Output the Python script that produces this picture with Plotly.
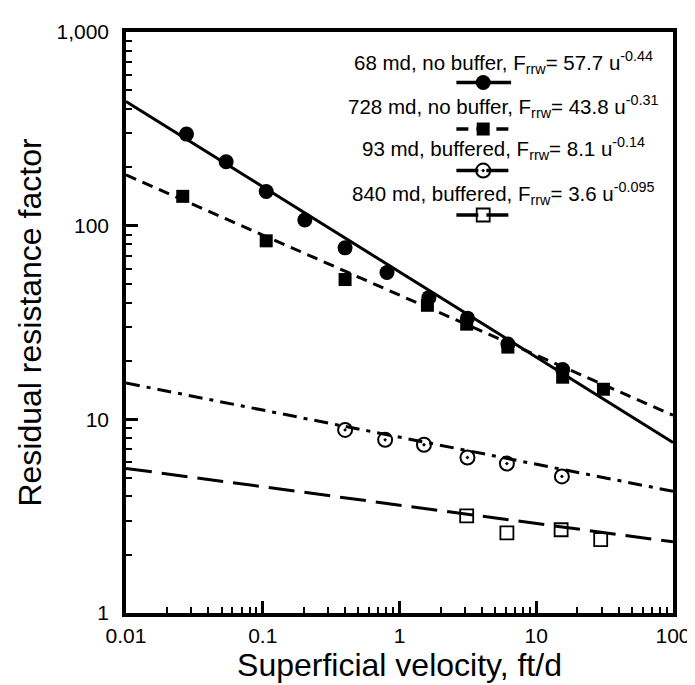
import plotly.graph_objects as go

# ---- data ----
vel_68 = [0.0277, 0.054, 0.106, 0.203, 0.40, 0.81, 1.64, 3.14, 6.2, 15.6]
rrf_68 = [297, 214, 150, 107, 76.8, 57.3, 42.5, 33.3, 24.5, 18.1]

vel_728 = [0.026, 0.106, 0.40, 1.6, 3.1, 6.2, 15.6, 31]
rrf_728 = [141.7, 83.5, 52.7, 38.8, 31.0, 23.6, 16.5, 14.3]

vel_93 = [0.40, 0.785, 1.51, 3.14, 6.1, 15.4]
rrf_93 = [8.82, 7.84, 7.39, 6.35, 5.91, 5.07]

vel_840 = [3.1, 6.1, 15.2, 29.6]
rrf_840 = [3.17, 2.59, 2.69, 2.39]

# fitted power-law lines: values at x = 0.01 and x = 100
fit_x = [0.01, 100]
fit_68 = [438, 7.6]
fit_728 = [182.8, 10.5]
fit_93 = [15.4, 4.25]
fit_840 = [5.58, 2.33]

legend_texts = [
    "68 md, no buffer, F<sub>rrw</sub>= 57.7 u<sup>-0.44</sup>",
    "728 md, no buffer, F<sub>rrw</sub>= 43.8 u<sup>-0.31</sup>",
    "93 md, buffered, F<sub>rrw</sub>= 8.1 u<sup>-0.14</sup>",
    "840 md, buffered, F<sub>rrw</sub>= 3.6 u<sup>-0.095</sup>",
]

x_tickvals = [0.01, 0.1, 1, 10, 100]
x_ticktext = ["0.01", "0.1", "1", "10", "100"]
y_tickvals = [1, 10, 100, 1000]
y_ticktext = ["1", "10", "100", "1,000"]
minor_digits = [2, 3, 4, 5, 6, 7, 8, 9]
x_decades = [0.01, 0.1, 1, 10]
y_decades = [1, 10, 100]

x_minor = [d * m for d in x_decades for m in minor_digits]
y_minor = [d * m for d in y_decades for m in minor_digits]

FONT = "Liberation Sans, Arial, Helvetica, sans-serif"
BLACK = "#000000"

series = [
    (vel_68, rrf_68, fit_68, "solid", "solid",
     dict(symbol="circle", size=15, color=BLACK)),
    (vel_728, rrf_728, fit_728, "11px,7px", "12px,8px",
     dict(symbol="square", size=13, color=BLACK)),
    (vel_93, rrf_93, fit_93, "14px,7px,4px,7px", "22px,8px",
     dict(symbol="circle-open-dot", size=14, color=BLACK, line=dict(width=2, color=BLACK))),
    (vel_840, rrf_840, fit_840, "26px,10px", "22px,8px",
     dict(symbol="square-open", size=13, color=BLACK, line=dict(width=1.8, color=BLACK))),
]

fig = go.Figure()
for vx, vy, fy, dash, _, mk in series:
    fig.add_trace(go.Scatter(x=fit_x, y=fy, mode="lines",
                             line=dict(color=BLACK, width=3, dash=dash),
                             showlegend=False, hoverinfo="skip"))
    fig.add_trace(go.Scatter(x=vx, y=vy, mode="markers", marker=mk,
                             showlegend=False))

# legend samples on an overlay axis (0..1 paper-like)
sample_y = [0.913, 0.833, 0.7615, 0.685]
text_y = [0.947, 0.872, 0.799, 0.722]
for (vx, vy, fy, dash, sdash, mk), sy in zip(series, sample_y):
    fig.add_trace(go.Scatter(x=[0.604, 0.704], y=[sy, sy], mode="lines",
                             line=dict(color=BLACK, width=3.5, dash=sdash),
                             xaxis="x2", yaxis="y2", showlegend=False, hoverinfo="skip"))
    fig.add_trace(go.Scatter(x=[0.653], y=[sy], mode="markers", marker=mk,
                             xaxis="x2", yaxis="y2", showlegend=False, hoverinfo="skip"))

# invisible trace to activate the minor-tick overlay axes
fig.add_trace(go.Scatter(x=[0.01], y=[1], mode="markers", marker=dict(opacity=0),
                         xaxis="x3", yaxis="y3", showlegend=False, hoverinfo="skip"))

for t, ty in zip(legend_texts, text_y):
    fig.add_annotation(x=0.69, y=ty, xref="paper", yref="paper", text=t,
                       showarrow=False, xanchor="center", yanchor="middle",
                       font=dict(family=FONT, size=20.5, color=BLACK))

axis_common = dict(showline=True, linecolor=BLACK, linewidth=3.5, mirror=True,
                   showgrid=False, zeroline=False, ticks="inside", tickcolor=BLACK,
                   tickwidth=2.5, ticklen=12,
                   tickfont=dict(family=FONT, size=21, color=BLACK))
minor_common = dict(type="log", showline=False, showgrid=False, zeroline=False,
                    ticks="inside", tickcolor=BLACK, tickwidth=2, ticklen=6,
                    showticklabels=False, domain=[0, 1])

fig.update_layout(
    width=695, height=685,
    margin=dict(l=118, r=27, t=17, b=80),
    paper_bgcolor="white", plot_bgcolor="white",
    font=dict(family=FONT, color=BLACK),
    xaxis=dict(type="log", range=[-2, 2], tickvals=x_tickvals, ticktext=x_ticktext,
               ticklabelstandoff=1,
               title=dict(text="Superficial velocity, ft/d",
                          font=dict(family=FONT, size=32, color=BLACK), standoff=2),
               **axis_common),
    yaxis=dict(type="log", range=[0, 3], tickvals=y_tickvals, ticktext=y_ticktext,
               ticklabelstandoff=9,
               title=dict(text="Residual resistance factor",
                          font=dict(family=FONT, size=32, color=BLACK), standoff=6),
               **axis_common),
    xaxis2=dict(overlaying="x", range=[0, 1], visible=False, domain=[0, 1]),
    yaxis2=dict(overlaying="y", range=[0, 1], visible=False, domain=[0, 1]),
    xaxis3=dict(overlaying="x", range=[-2, 2], tickvals=x_minor, side="bottom",
                anchor="y3", **minor_common),
    yaxis3=dict(overlaying="y", range=[0, 3], tickvals=y_minor, side="left",
                anchor="x3", **minor_common),
)

fig.write_html("out.html")
